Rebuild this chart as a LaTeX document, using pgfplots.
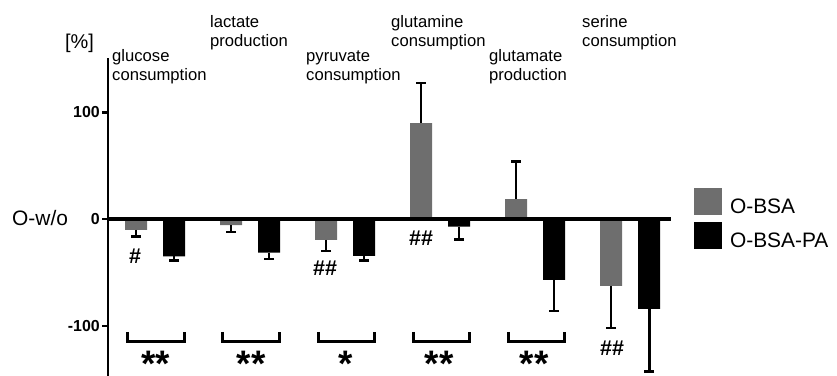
\documentclass[border=0pt]{standalone}
\usepackage{pgfplots}
\pgfplotsset{compat=1.18}
\usepackage{pgfplotstable}
\usepackage{fontspec}
\setmainfont{Liberation Sans}
\definecolor{barGray}{RGB}{110,110,110}

\pgfplotstableread{
x y
0 -10
1 -5.5
2 -19.5
3 90
4 18.7
5 -62.5
}\obsa
\pgfplotstableread{
x y
0.4 -35
1.4 -31.5
2.4 -34.5
3.4 -7
4.4 -57
5.4 -84
}\obsapa
\pgfplotstableread{
x y e
0 -10 6
1 -5.5 6.5
2 -19.5 10.5
5 -62.5 39.5
}\obsaneg
\pgfplotstableread{
x y e
3 90 37.7
4 18.7 35.3
}\obsapos
\pgfplotstableread{
x y e
0.4 -35 3.5
1.4 -31.5 6
2.4 -34.5 4
3.4 -7 12
4.4 -57 29
5.4 -84 59
}\paneg

\pgfplotsset{
  errstyle/.style={forget plot, black, draw=none, mark=none,
    error bars/.cd, y explicit, y dir=#1,
    error bar style={line width=2.7bp, black, solid},
    error mark options={rotate=90, line width=2.7bp, mark size=5bp, black, solid}},
}

\begin{document}
\begin{tikzpicture}
\useasboundingbox (-108bp,0bp) rectangle (729bp,376bp);
\begin{axis}[
  at={(0,0)}, anchor=south west,
  scale only axis, width=563bp, height=318bp,
  xmin=-0.295, xmax=5.63, ymin=-147, ymax=151,
  axis y line=left, axis x line=middle,
  axis line style={-, black},
  x axis line style={line width=4bp},
  y axis line style={line width=2.7bp},
  xtick=\empty,
  ytick={-100,0,100}, yticklabels={-100,0,100},
  hide obscured y ticks=false,
  yticklabel style={font=\fontsize{16}{18}\selectfont\bfseries, inner sep=2bp},
  tick align=outside, major tick length=6bp,
  tick style={line width=2.4bp, black},
  clip=false, axis on top,
  legend cell align=left,
  legend style={draw=none, fill=none, inner sep=0pt, outer sep=0pt,
    at={(1.04085,0.4953)}, anchor=west,
    font=\fontsize{21}{24}\selectfont, row sep=7bp, column sep=8bp,
    nodes={inner sep=0pt, text depth=0pt}},
]
\addplot[ybar, bar width=0.2316, bar shift=0, fill=barGray, draw=none,
  legend image code/.code={\fill[barGray] (0bp,-8.3bp) rectangle (28bp,18.7bp);}]
  table {\obsa};
\addlegendentry{O-BSA}
\addplot[ybar, bar width=0.2316, bar shift=0, fill=black, draw=none,
  legend image code/.code={\fill[black] (0bp,-8.3bp) rectangle (28bp,18.7bp);}]
  table {\obsapa};
\addlegendentry{O-BSA-PA}

\addplot[errstyle=minus] table[y error=e] {\obsaneg};
\addplot[errstyle=plus] table[y error=e] {\obsapos};
\addplot[errstyle=minus] table[y error=e] {\paneg};

% brackets
\draw[line width=3bp, black, line join=miter] (axis cs:-0.085,-105.6) -- (axis cs:-0.085,-114.5) -- (axis cs:0.505,-114.5) -- (axis cs:0.505,-105.6);
\draw[line width=3bp, black, line join=miter] (axis cs:0.915,-105.6) -- (axis cs:0.915,-114.5) -- (axis cs:1.505,-114.5) -- (axis cs:1.505,-105.6);
\draw[line width=3bp, black, line join=miter] (axis cs:1.915,-105.6) -- (axis cs:1.915,-114.5) -- (axis cs:2.505,-114.5) -- (axis cs:2.505,-105.6);
\draw[line width=3bp, black, line join=miter] (axis cs:2.915,-105.6) -- (axis cs:2.915,-114.5) -- (axis cs:3.505,-114.5) -- (axis cs:3.505,-105.6);
\draw[line width=3bp, black, line join=miter] (axis cs:3.915,-105.6) -- (axis cs:3.915,-114.5) -- (axis cs:4.505,-114.5) -- (axis cs:4.505,-105.6);

% stars
\node[anchor=north, inner sep=0pt, font=\fontsize{37}{40}\selectfont\bfseries] at (axis cs:0.21,-123.8) {**};
\node[anchor=north, inner sep=0pt, font=\fontsize{37}{40}\selectfont\bfseries] at (axis cs:1.21,-123.8) {**};
\node[anchor=north, inner sep=0pt, font=\fontsize{37}{40}\selectfont\bfseries] at (axis cs:2.21,-123.8) {*};
\node[anchor=north, inner sep=0pt, font=\fontsize{37}{40}\selectfont\bfseries] at (axis cs:3.19,-123.8) {**};
\node[anchor=north, inner sep=0pt, font=\fontsize{37}{40}\selectfont\bfseries] at (axis cs:4.19,-123.8) {**};

% hashes
\node[inner sep=0pt, font=\fontsize{21.5}{24}\selectfont\bfseries] at (axis cs:-0.01,-34.7) {\#};
\node[inner sep=0pt, font=\fontsize{21.5}{24}\selectfont\bfseries] at (axis cs:1.99,-46.4) {\#\#};
\node[inner sep=0pt, font=\fontsize{21.5}{24}\selectfont\bfseries] at (axis cs:3.0,-17.8) {\#\#};
\node[inner sep=0pt, font=\fontsize{21.5}{24}\selectfont\bfseries] at (axis cs:5.01,-120.9) {\#\#};
\end{axis}

% category labels
\begin{scope}[every node/.style={anchor=base west, inner sep=0pt, font=\fontsize{16.7}{20}\selectfont}]
\node at (4bp,314bp) {glucose};
\node at (4bp,295bp) {consumption};
\node at (102bp,348bp) {lactate};
\node at (102bp,329bp) {production};
\node at (198bp,314bp) {pyruvate};
\node at (198bp,295bp) {consumption};
\node at (283bp,348bp) {glutamine};
\node at (283bp,329bp) {consumption};
\node at (381bp,314bp) {glutamate};
\node at (381bp,295bp) {production};
\node at (474bp,348bp) {serine};
\node at (474bp,329bp) {consumption};
\end{scope}
\node[anchor=base west, inner sep=0pt, font=\fontsize{20}{24}\selectfont] at (-43bp,327bp) {[\%]};
\node[anchor=base west, inner sep=0pt, font=\fontsize{21}{24}\selectfont] at (-96bp,150bp) {O-w/o};
\end{tikzpicture}
\end{document}
